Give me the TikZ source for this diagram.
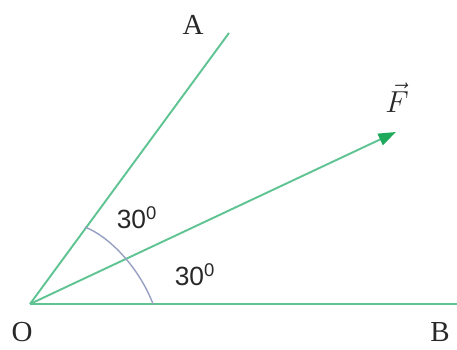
\documentclass[tikz,border=0pt]{standalone}
\usepackage{fontspec}
\setmainfont{Liberation Serif}
\newfontfamily\numfont{Liberation Sans}
\usetikzlibrary{arrows.meta}
\definecolor{lineg}{RGB}{95,196,146}
\definecolor{arrg}{RGB}{30,170,90}
\definecolor{arcc}{RGB}{150,160,195}
\definecolor{txt}{RGB}{40,40,40}
\begin{document}
\begin{tikzpicture}[x=0.02cm,y=-0.02cm,
  ray/.style={draw=lineg,line width=1.1pt},
  lbl/.style={inner sep=0pt,text=txt,font=\fontsize{16.5}{18}\selectfont},
  deg/.style={inner sep=0pt,text=txt,font=\numfont\fontsize{15}{17}\selectfont}]
\useasboundingbox (0,0) rectangle (457,350);
\coordinate (O) at (30,304);
\coordinate (Bend) at (457,304);
\coordinate (Aend) at (229,33);
\coordinate (Fend) at (396,132);
\draw[ray,line width=1.4pt] (O) -- (Bend);
\draw[ray] (O) -- (Aend);
\draw[ray,arrows={-Triangle[length=10pt,width=7pt,fill=arrg,color=arrg]}] (O) -- (Fend);
\draw[draw=arcc,line width=0.8pt] (85,227) .. controls (112,238) and (140,270) .. (153,304);
\node[lbl] (A) at (193,25) {A};
\node[lbl] (B) at (440,332) {B};
\node[lbl] (Olbl) at (22,332) {O};
\node[lbl] (F) at (397,98) {$\vec{F}$};
\node[deg] (d1) at (137,218) {30\textsuperscript{0}};
\node[deg] (d2) at (195,275) {30\textsuperscript{0}};
\end{tikzpicture}
\end{document}
